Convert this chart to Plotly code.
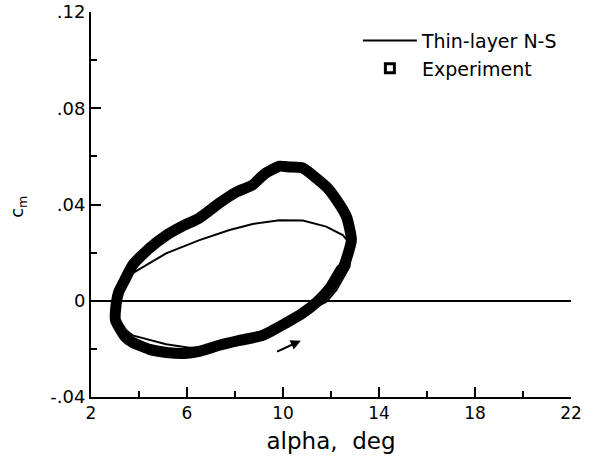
import plotly.graph_objects as go

# Experiment loop (counter-clockwise from left)
exp_alpha = [3.06, 3.02, 3.44, 3.73, 4.44, 5.15, 5.90, 6.52, 7.35, 8.19, 9.15, 10.15, 10.81,
             11.40, 11.98, 12.40, 12.52, 12.85, 12.65, 12.23, 11.80, 10.81, 10.27, 9.85,
             9.23, 8.73, 8.06, 7.35, 6.52, 5.81, 5.15, 4.44, 3.73, 3.40, 3.15, 3.06]
exp_cm = [-0.0006, -0.0081, -0.0152, -0.0173, -0.0202, -0.0215, -0.0219, -0.0210, -0.0185,
          -0.0165, -0.0144, -0.0091, -0.0052, -0.0006, 0.0056, 0.0127, 0.0140, 0.0252,
          0.0348, 0.0419, 0.0474, 0.0552, 0.0556, 0.0559, 0.0527, 0.0481, 0.0452, 0.0406,
          0.0344, 0.0310, 0.0273, 0.0219, 0.0148, 0.0085, 0.0035, -0.0006]

# Thin-layer Navier-Stokes loop
ns_alpha = [3.02, 3.10, 3.31, 3.73, 5.13, 6.10, 7.35, 8.60, 9.85, 10.90, 11.80, 12.22, 12.69,
            12.77, 12.84, 12.85, 12.49, 11.80, 10.83, 9.85, 8.74, 7.77, 6.52, 5.13, 4.30,
            3.81, 3.40, 3.15, 3.02]
ns_cm = [-0.0019, -0.0073, -0.0110, -0.0144, -0.0181, -0.0195, -0.0190, -0.0156, -0.0106,
         -0.0048, -0.0005, 0.0044, 0.0127, 0.0141, 0.0210, 0.0231, 0.0273, 0.0308, 0.0333,
         0.0335, 0.0319, 0.0294, 0.0252, 0.0197, 0.0148, 0.0119, 0.0077, 0.0031, -0.0019]

# Arrow showing direction of the loop
arrow_from = (9.69, -0.0214)
arrow_to = (10.74, -0.0166)

y_tickvals = [-0.04, 0, 0.04, 0.08, 0.12]
y_ticktext = ["-.04", "0", ".04", ".08", ".12"]
x_tickvals = [2, 6, 10, 14, 18, 22]

FONT = "DejaVu Sans"

fig = go.Figure()
fig.add_trace(go.Scatter(x=ns_alpha, y=ns_cm, mode="lines",
                         line=dict(color="black", width=2),
                         name="Thin-layer N-S"))
fig.add_trace(go.Scatter(x=exp_alpha, y=exp_cm, mode="lines",
                         line=dict(color="black", width=11, shape="spline", smoothing=0.5),
                         showlegend=False, name="Experiment"))
fig.add_trace(go.Scatter(x=[None], y=[None], mode="markers",
                         marker=dict(symbol="square-open", size=9, color="black",
                                     line=dict(width=3, color="black")),
                         name="Experiment"))

fig.add_annotation(x=arrow_to[0], y=arrow_to[1], ax=arrow_from[0], ay=arrow_from[1],
                   xref="x", yref="y", axref="x", ayref="y", text="",
                   showarrow=True, arrowhead=2, arrowsize=1, arrowwidth=2, arrowcolor="black")

fig.add_annotation(text="c<sub>m</sub>", xref="paper", yref="paper",
                   x=-0.152, y=0.494, xanchor="center", yanchor="middle",
                   showarrow=False, textangle=-90,
                   font=dict(family=FONT, size=18, color="#000000"))

fig.update_xaxes(range=[2, 22], tickmode="array", tickvals=x_tickvals,
                 ticks="inside", ticklen=10, tickwidth=2, tickcolor="black",
                 showline=True, linecolor="black", linewidth=2, mirror=False,
                 showgrid=False, zeroline=False,
                 minor=dict(tickmode="linear", tick0=2, dtick=2, ticks="inside",
                            ticklen=6, tickwidth=2, tickcolor="black"),
                 tickfont=dict(family=FONT, size=17, color="black"),
                 title=dict(text="alpha,&nbsp; deg", standoff=10,
                            font=dict(family=FONT, size=23, color="black")))
fig.update_yaxes(range=[-0.04, 0.12], tickmode="array", tickvals=y_tickvals,
                 ticktext=y_ticktext,
                 ticks="inside", ticklen=10, tickwidth=2, tickcolor="black",
                 showline=True, linecolor="black", linewidth=2, mirror=False,
                 showgrid=False, zeroline=True, zerolinecolor="black", zerolinewidth=2,
                 minor=dict(tickmode="linear", tick0=-0.04, dtick=0.02, ticks="inside",
                            ticklen=6, tickwidth=2, tickcolor="black"),
                 tickfont=dict(family=FONT, size=18, color="black"))

fig.update_layout(
    template="none",
    width=608, height=457,
    margin=dict(l=91, r=37, t=12, b=60),
    plot_bgcolor="white", paper_bgcolor="white",
    legend=dict(x=0.556, y=0.975, xanchor="left", yanchor="top",
                bgcolor="rgba(0,0,0,0)", font=dict(family=FONT, size=19, color="black"),
                itemwidth=54, tracegroupgap=0),
    font=dict(family=FONT, color="black"),
)

fig.write_html("out.html")
